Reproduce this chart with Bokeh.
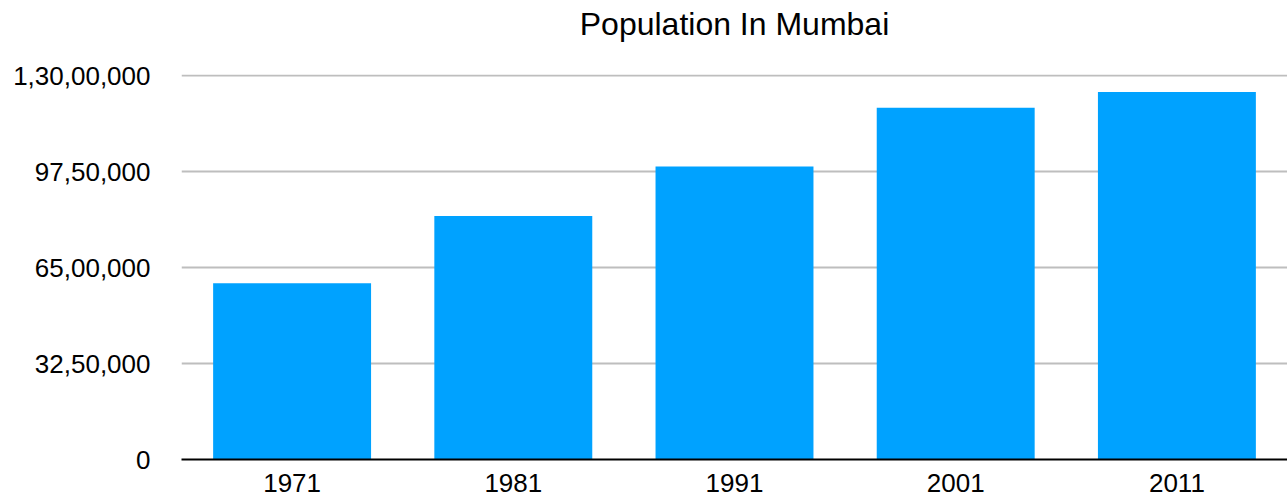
from bokeh.plotting import figure
from bokeh.models import ColumnDataSource, FixedTicker, CustomJSTickFormatter, Range1d, FactorRange, Title
from bokeh.embed import file_html
from bokeh.resources import INLINE

years = ["1971", "1981", "1991", "2001", "2011"]
population = [5970000, 8240000, 9920000, 11910000, 12440000]
y_ticks = [0, 3250000, 6500000, 9750000, 13000000]
title_text = "Population In Mumbai"

FONT = "Liberation Sans"

src = ColumnDataSource(data=dict(year=years, pop=population))

p = figure(
    x_range=FactorRange(*years, range_padding=0),
    y_range=Range1d(0, 13035000),
    width=1287, height=498,
    output_backend="svg", toolbar_location=None,
    min_border_left=181, min_border_right=0, min_border_top=74, min_border_bottom=39,
)
p.outline_line_color = None

p.vbar(x="year", top="pop", width=0.714, source=src, color="#00A2FF", line_color=None)

# empty spacer panel between the frame and the title
spacer = Title(text=" ", text_font_size="1px", standoff=27, text_color="#FFFFFF")
p.add_layout(spacer, "above")
title = Title(
    text=title_text, align="center", vertical_align="top", standoff=2,
    text_font=FONT, text_font_size="32px", text_font_style="normal", text_color="#000000",
)
p.add_layout(title, "above")

p.xgrid.grid_line_color = None
p.ygrid.grid_line_color = "#BEBEBE"
p.ygrid.grid_line_width = 2

p.yaxis.ticker = FixedTicker(ticks=y_ticks)
p.yaxis.formatter = CustomJSTickFormatter(code="""
    let s = Math.round(tick).toString();
    if (s.length <= 3) return s;
    let last3 = s.slice(-3);
    let rest = s.slice(0, -3);
    let parts = [];
    while (rest.length > 2) { parts.unshift(rest.slice(-2)); rest = rest.slice(0, -2); }
    if (rest.length) parts.unshift(rest);
    return parts.join(',') + ',' + last3;
""")
p.yaxis.axis_line_color = None
p.yaxis.major_tick_line_color = None
p.yaxis.minor_tick_line_color = None
p.yaxis.major_tick_out = 0
p.yaxis.major_tick_in = 0
p.yaxis.minor_tick_out = 0
p.yaxis.major_label_standoff = 31
p.yaxis.major_label_text_font = FONT
p.yaxis.major_label_text_font_size = "26px"
p.yaxis.major_label_text_color = "#000000"

p.xaxis.axis_line_color = "#000000"
p.xaxis.axis_line_width = 2
p.xaxis.major_tick_line_color = None
p.xaxis.minor_tick_line_color = None
p.xaxis.major_tick_out = 0
p.xaxis.major_tick_in = 0
p.xaxis.minor_tick_out = 0
p.xaxis.major_label_standoff = 14
p.xaxis.major_label_text_font = FONT
p.xaxis.major_label_text_font_size = "26px"
p.xaxis.major_label_text_color = "#000000"

open("out.html", "w").write(file_html(p, INLINE))
